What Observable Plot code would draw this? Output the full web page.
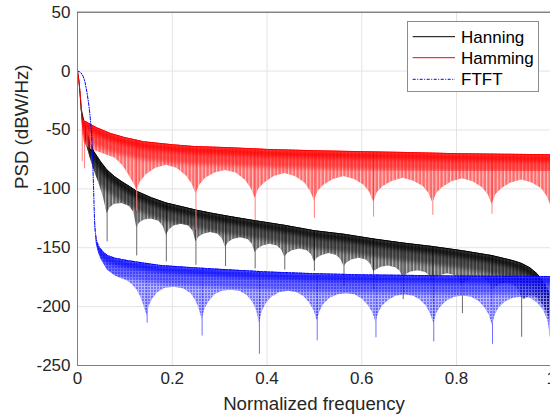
<!DOCTYPE html>
<html><head><meta charset="utf-8">
<script src="https://cdn.jsdelivr.net/npm/d3@7"></script>
<script src="https://cdn.jsdelivr.net/npm/@observablehq/plot@0.6"></script>
<style>
body{margin:0;background:#fff;font-family:"Liberation Sans",Arial,sans-serif;}
#wrap{position:relative;width:550px;height:419px;overflow:hidden;}
#legend{position:absolute;left:407px;top:21px;width:130px;height:69px;border:1px solid #8c8c8c;background:#fff;}
#legend text{font-family:"Liberation Sans",Arial,sans-serif;font-size:17px;fill:#000;}
</style></head><body><div id="wrap"></div>
<script>
// ---- axis ticks ----
const xTicks = [0, 0.2, 0.4, 0.6, 0.8, 1];
const xTickLabels = ["0", "0.2", "0.4", "0.6", "0.8", "1"];
const yTicks = [50, 0, -50, -100, -150, -200, -250];
const yTickLabels = ["50", "0", "-50", "-100", "-150", "-200", "-250"];
const seriesNames = ["Hanning", "Hamming", "FTFT"];

// ---- Hanning (black): upper envelope, lower edge of sidelobe band, deep notches ----
const hanTopF  = [0, 0.003, 0.0055, 0.0078, 0.013, 0.02, 0.027, 0.035, 0.049, 0.0625, 0.078, 0.094, 0.11, 0.125, 0.156, 0.1875, 0.219, 0.25, 0.281, 0.3125, 0.344, 0.375, 0.4375, 0.5, 0.5625, 0.625, 0.6875, 0.75, 0.8125, 0.875, 0.92, 0.9375, 0.955, 0.97, 0.985, 1.0];
const hanTopDb = [0, -8, -20, -32, -42, -52, -61.5, -68.5, -77, -84, -89.5, -94, -98, -102, -107.5, -112, -115, -118, -120.5, -122.8, -125, -127, -131, -135.5, -138.5, -142.5, -146, -149, -152.5, -156.7, -161, -163.3, -167, -172, -180, -192];
const hanBotF  = [0.0078, 0.013, 0.02, 0.027, 0.035, 0.045, 0.054, 0.0625,
  0.0685, 0.0785, 0.094, 0.11, 0.119, 0.125,
  0.131, 0.141, 0.156, 0.172, 0.181, 0.1875,
  0.1935, 0.2035, 0.219, 0.235, 0.244, 0.25,
  0.256, 0.266, 0.281, 0.297, 0.306, 0.3125,
  0.3185, 0.3285, 0.344, 0.36, 0.369, 0.375,
  0.381, 0.391, 0.406, 0.422, 0.431, 0.4375,
  0.4435, 0.4535, 0.469, 0.485, 0.494, 0.5,
  0.506, 0.516, 0.531, 0.547, 0.556, 0.5625,
  0.5685, 0.5785, 0.594, 0.61, 0.619, 0.625,
  0.631, 0.641, 0.656, 0.672, 0.681, 0.6875,
  0.6935, 0.7035, 0.719, 0.735, 0.744, 0.75,
  0.756, 0.766, 0.781, 0.797, 0.806, 0.8125,
  0.8185, 0.8285, 0.844, 0.86, 0.869, 0.875,
  0.881, 0.891, 0.906, 0.922, 0.931, 0.9375,
  0.9435, 0.9535, 0.969, 0.985, 0.994, 1.0];
const hanBotDb = [-33, -52, -64, -74, -84, -95, -106, -121,
  -116, -113, -112.5, -115, -120, -133,
  -129, -126.5, -125.5, -127.5, -132, -139.5,
  -135, -131.5, -130, -131.5, -136, -145,
  -141, -138.5, -137, -138.5, -142.5, -149.5,
  -145.5, -143, -141.5, -143, -147, -154,
  -151, -148.5, -147, -148.5, -152, -158,
  -155, -152.5, -151, -152.5, -156, -162,
  -159, -156.5, -155, -156.5, -160, -166,
  -163, -160.5, -159, -160.5, -164, -170,
  -169, -166.5, -165.5, -167, -170, -176,
  -173, -170.5, -169.5, -171, -174, -180,
  -176, -173.5, -172, -173.5, -177, -183,
  -179, -176.5, -175, -176.5, -180, -186,
  -184, -181.5, -180, -182, -186, -192,
  -194, -191, -192, -200, -208, -218];
const hanSpikeF  = [0.0625, 0.125, 0.1875, 0.25, 0.3125, 0.375, 0.4375, 0.5, 0.5625, 0.625, 0.6875, 0.75, 0.8125, 0.875, 0.9375, 0.998];
const hanSpikeDb = [-145, -157, -162, -165, -166, -168, -169, -170, -183, -186, -194, -197, -206, -200, -226, -226];

// ---- Hamming (red) ----
const hamTopF  = [0, 0.004, 0.007, 0.0095, 0.012, 0.02, 0.04, 0.07, 0.1, 0.14, 0.2, 0.245, 0.32, 0.4, 0.5, 0.6, 0.7, 0.8, 0.9, 1.0];
const hamTopDb = [0, -12, -26, -40, -42, -43.5, -48, -53, -56.5, -60, -62.5, -64, -65, -66.5, -67.6, -68.4, -69.2, -70.1, -70.6, -71];
const hamBotF  = [0.0095, 0.012, 0.015, 0.025, 0.04, 0.06, 0.08, 0.095, 0.105, 0.115, 0.121, 0.125,
  0.133, 0.145, 0.165, 0.1875, 0.21, 0.23, 0.242, 0.25,
  0.258, 0.27, 0.29, 0.3125, 0.335, 0.355, 0.367, 0.375,
  0.383, 0.395, 0.415, 0.4375, 0.46, 0.48, 0.492, 0.5,
  0.508, 0.52, 0.54, 0.5625, 0.585, 0.605, 0.617, 0.625,
  0.633, 0.645, 0.665, 0.6875, 0.71, 0.73, 0.742, 0.75,
  0.758, 0.77, 0.79, 0.8125, 0.835, 0.855, 0.867, 0.875,
  0.883, 0.895, 0.915, 0.9375, 0.96, 0.98, 0.992, 1.0];
const hamBotDb = [-41, -55, -62, -66, -68, -71, -74, -80, -86, -93, -97, -101,
  -94, -88, -82.5, -80, -82.5, -89, -96, -104,
  -97, -91, -86.5, -84.5, -86.5, -93, -100, -108,
  -100, -95, -89.5, -87, -89.5, -95, -102, -110,
  -102, -97, -92, -89.5, -92, -97, -103, -111,
  -103, -98, -93.5, -91, -93.5, -98, -104, -112,
  -104, -99, -94, -91.5, -94, -99, -105, -113,
  -105, -100, -95, -92.5, -95, -100, -107, -115];
const hamSpikeF  = [0.01, 0.015, 0.125, 0.25, 0.375, 0.5, 0.625, 0.75, 0.875, 0.999];
const hamSpikeDb = [-77, -83, -119, -135, -127, -125, -124, -122.5, -121.5, -121];

// ---- FTFT (blue) ----
const ftTopF  = [0, 0.004, 0.008, 0.012, 0.016, 0.02, 0.024, 0.027, 0.0295, 0.031, 0.0325, 0.034, 0.035, 0.036, 0.038, 0.041, 0.046, 0.054, 0.063, 0.08, 0.105, 0.14, 0.175, 0.245, 0.344, 0.4, 0.5, 0.6, 0.8, 1.0];
const ftTopDb = [0, -0.5, -1.8, -4.5, -9.5, -18, -29, -40, -52, -65, -82, -100, -115, -127, -138, -145, -149.5, -153.5, -156.5, -159, -160.8, -163, -165, -167, -169.3, -170.5, -172, -173, -174, -174.5];
const ftBotF  = [0.036, 0.04, 0.045, 0.05, 0.063, 0.08, 0.095, 0.105, 0.115, 0.126, 0.134, 0.14, 0.144, 0.147,
  0.151, 0.158, 0.168, 0.185, 0.205, 0.225, 0.24, 0.25, 0.257, 0.263,
  0.269, 0.277, 0.29, 0.305, 0.3235, 0.343, 0.358, 0.37, 0.378, 0.384,
  0.39, 0.398, 0.41, 0.427, 0.445, 0.463, 0.478, 0.49, 0.499, 0.506,
  0.512, 0.52, 0.533, 0.55, 0.568, 0.586, 0.601, 0.614, 0.623, 0.63,
  0.636, 0.644, 0.657, 0.673, 0.691, 0.709, 0.724, 0.737, 0.745, 0.752,
  0.758, 0.766, 0.779, 0.796, 0.814, 0.832, 0.847, 0.86, 0.869, 0.876,
  0.882, 0.89, 0.903, 0.92, 0.938, 0.956, 0.971, 0.984, 0.993, 1.0];
const ftBotDb = [-128, -147, -155, -160, -169, -174, -176.5, -178, -181, -186, -192, -199, -204, -208,
  -200, -194, -188.5, -184.5, -183.5, -185, -189, -195, -202, -211,
  -202, -196, -190, -187, -186, -187, -190.5, -196, -203, -214,
  -204, -197.5, -192, -188, -187, -188, -191.5, -197, -203, -212,
  -204, -198, -193, -190, -189, -190, -193.5, -199, -205, -213,
  -205, -199.5, -194.5, -191, -190, -191, -194.5, -200, -206, -214,
  -206, -200.5, -195.5, -192, -191, -192, -195.5, -201, -207, -216,
  -207, -201, -196, -193, -192, -193, -197, -203, -212, -230];
const ftSpikeF  = [0.147, 0.263, 0.384, 0.506, 0.63, 0.752, 0.876];
const ftSpikeDb = [-214, -225, -240.5, -229, -226.5, -230, -232];

// ---------------------------------------------------------------
const rows = (F, D) => F.map((f, i) => ({f, db: D[i]}));
const series = [
  {k: "han", name: seriesNames[0], topF: hanTopF, topDb: hanTopDb, botF: hanBotF, botDb: hanBotDb, spF: hanSpikeF, spDb: hanSpikeDb},
  {k: "ham", name: seriesNames[1], topF: hamTopF, topDb: hamTopDb, botF: hamBotF, botDb: hamBotDb, spF: hamSpikeF, spDb: hamSpikeDb},
  {k: "ft",  name: seriesNames[2], topF: ftTopF,  topDb: ftTopDb,  botF: ftBotF,  botDb: ftBotDb,  spF: ftSpikeF,  spDb: ftSpikeDb}
];
const style = {
  han: {color: "#000000", base: 0.6, spike: "#6a6a6a", shadeA: 0.45, shadeB: 0.75},
  ham: {color: "#ff0000", base: 0.58, spike: "#ff8080", shadeA: 0.5, shadeB: 0.8},
  ft:  {color: "#0000ff", base: 0.55, spike: "#7070ff", shadeA: 0.4, shadeB: 0.7}
};

// marker ids (stroke-miterlimit) used only to find mark groups after rendering
let nextId = 101;
const ids = {};
function tag(name) { const v = nextId++; (ids[name] = ids[name] || []).push(v); return v; }

const marks = [
  Plot.ruleX(xTicks, {x: d => d, stroke: "#e3e3e3"}),
  Plot.ruleY(yTicks, {y: d => d, stroke: "#e3e3e3"})
];
for (const s of series) {
  const st = style[s.k];
  const top = rows(s.topF, s.topDb), bot = rows(s.botF, s.botDb), sp = rows(s.spF, s.spDb);
  const start = s.botF[0];
  marks.push(
    Plot.areaY(top, {x: "f", y1: -320, y2: "db", fill: "#000", strokeMiterlimit: tag(`clipTop-${s.k}`)}),
    Plot.areaY(bot, {x: "f", y1: "db", y2: 80, fill: "#000", strokeMiterlimit: tag(`clipBand-${s.k}`)}),
    Plot.ruleX(sp, {x: "f", y1: "db", y2: 80, stroke: st.spike, strokeWidth: 1, strokeMiterlimit: tag(`topc-${s.k}`)}),
    Plot.areaY(bot, {x: "f", y1: "db", y2: 80, fill: st.color, fillOpacity: st.base, strokeMiterlimit: tag(`topc-${s.k}`)}),
    Plot.areaY(bot, {x: "f", y1: "db", y2: 80, fill: `url(#pat-${s.k})`, strokeMiterlimit: tag(`topc-${s.k}`)}),
    Plot.line(top, {x: "f", y: "db", filter: d => d.f >= start, stroke: st.color, strokeWidth: 18, dy: 9, strokeOpacity: st.shadeA, strokeMiterlimit: tag(`shade-${s.k}`)}),
    Plot.line(top, {x: "f", y: "db", filter: d => d.f >= start, stroke: st.color, strokeWidth: 7, dy: 3.5, strokeOpacity: st.shadeB, strokeMiterlimit: tag(`shade-${s.k}`)}),
    Plot.line(top, {x: "f", y: "db", stroke: st.color, strokeWidth: 1, strokeDasharray: s.k === "ft" ? "3,1.5,1,1.5" : null})
  );
}
marks.push(
  Plot.ruleX([0], {x: d => d, stroke: "#7f7f7f"}),
  Plot.ruleX([1], {x: d => d, stroke: "#7f7f7f"}),
  Plot.ruleY([-250], {y: d => d, stroke: "#7f7f7f"}),
  Plot.ruleY([50], {y: d => d, stroke: "#555"}),
  Plot.text(xTicks, {x: d => d, text: (d, i) => xTickLabels[i], frameAnchor: "bottom", dy: 18, fontSize: 17, fill: "#262626"}),
  Plot.text(yTicks, {y: d => d, text: (d, i) => yTickLabels[i], frameAnchor: "left", dx: -7, textAnchor: "end", fontSize: 17, fill: "#262626"}),
  Plot.text(["Normalized frequency"], {text: d => d, frameAnchor: "bottom", dy: 44, fontSize: 18.7, fill: "#262626"}),
  Plot.text(["PSD (dBW/Hz)"], {text: d => d, frameAnchor: "left", dx: -55, rotate: -90, fontSize: 18.7, fill: "#262626"})
);

const svg = Plot.plot({
  width: 550, height: 419,
  marginLeft: 77, marginRight: 0, marginTop: 12, marginBottom: 54,
  x: {domain: [0, 1], range: [77, 550.75], axis: null},
  y: {domain: [-250, 50], range: [365, 11.7], axis: null},
  style: {fontFamily: "Liberation Sans, Arial, sans-serif", fontSize: "17px", background: "#fff", overflow: "visible"},
  marks
});

const NS = "http://www.w3.org/2000/svg";
const defs = document.createElementNS(NS, "defs");
svg.insertBefore(defs, svg.firstChild);
defs.innerHTML = `
<filter id="soft" x="-5%" y="-20%" width="110%" height="140%"><feGaussianBlur stdDeviation="2.2"/></filter>
<pattern id="pat-han" patternUnits="userSpaceOnUse" width="3.5" height="4"><rect x="0" y="0" width="1.2" height="4" fill="#fff" fill-opacity="0.55"/></pattern>
<pattern id="pat-ham" patternUnits="userSpaceOnUse" width="3.6" height="4"><rect x="0" y="0" width="1.2" height="4" fill="#fff" fill-opacity="0.6"/></pattern>
<pattern id="pat-ft" patternUnits="userSpaceOnUse" width="3" height="3"><rect x="0" y="0" width="1" height="3" fill="#fff" fill-opacity="0.5"/><rect x="1" y="1" width="2" height="1" fill="#fff" fill-opacity="0.45"/></pattern>`;

const groupsOf = name => (ids[name] || []).map(v => svg.querySelector(`[stroke-miterlimit="${v}"]`)).filter(Boolean);
function makeClip(name, id) {
  const g = groupsOf(name)[0];
  if (!g) return;
  const p = g.tagName.toLowerCase() === "path" ? g : g.querySelector("path");
  const t = g.getAttribute("transform");
  const cp = document.createElementNS(NS, "clipPath");
  cp.setAttribute("id", id);
  const np = p.cloneNode(false);
  if (t && g !== p) np.setAttribute("transform", t);
  cp.appendChild(np);
  defs.appendChild(cp);
  g.remove();
}
function wrap(el, id) {
  const w = document.createElementNS(NS, "g");
  el.parentNode.insertBefore(w, el);
  w.appendChild(el);
  w.setAttribute("clip-path", `url(#${id})`);
  return w;
}
for (const s of series) {
  makeClip(`clipTop-${s.k}`, `cpt-${s.k}`);
  makeClip(`clipBand-${s.k}`, `cpb-${s.k}`);
  groupsOf(`topc-${s.k}`).forEach(g => wrap(g, `cpt-${s.k}`));
  groupsOf(`shade-${s.k}`).forEach(g => { g.setAttribute("filter", "url(#soft)"); wrap(wrap(g, `cpb-${s.k}`), `cpt-${s.k}`); });
}

const wrapDiv = document.getElementById("wrap");
wrapDiv.appendChild(svg);

// legend box
const colors = [style.han.color, style.ham.color, style.ft.color];
const leg = document.createElement("div");
leg.id = "legend";
let inner = `<svg width="130" height="69" xmlns="${NS}">`;
const rowsY = [14.7, 35.7, 57.3];
seriesNames.forEach((n, i) => {
  inner += `<line x1="4.7" x2="47" y1="${rowsY[i]}" y2="${rowsY[i]}" stroke="${colors[i]}" stroke-width="1" ${i === 2 ? 'stroke-dasharray="3,1.5,1,1.5"' : ''}/>`;
  inner += `<text x="53" y="${rowsY[i]}" dy="0.35em">${n}</text>`;
});
inner += `</svg>`;
leg.innerHTML = inner;
wrapDiv.appendChild(leg);
</script></body></html>
